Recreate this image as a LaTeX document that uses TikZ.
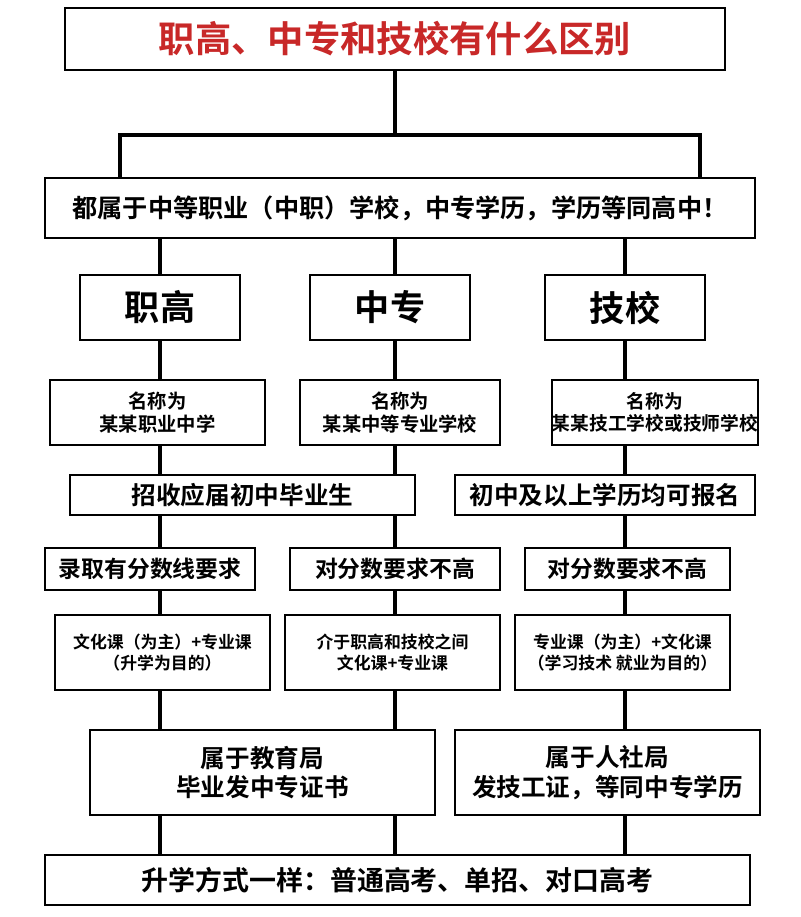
\documentclass[tikz,border=0pt]{standalone}
\usepackage{fontspec}
\setmainfont{Noto Sans CJK SC}[BoldFont={Noto Sans CJK SC Bold}]
\usetikzlibrary{backgrounds}
\definecolor{titlered}{RGB}{200,40,40}
\tikzset{box/.style={draw,line width=1.6pt,fill=white,align=center,inner sep=0pt,font=\bfseries},
         link/.style={line width=3.2pt}}
% box from pixel corners: name, x1, y1, x2, y2, font size, text
\newcommand{\bx}[7]{%
  \node[box,minimum width={(#4-#2)*0.03cm},minimum height={(#5-#3)*0.03cm},
        font=\fontsize{#6pt}{\dimexpr #6pt*12/10\relax}\selectfont\bfseries] (#1) at ({(#2+#4)/2},{(#3+#5)/2}) {#7};}
\begin{document}
\begin{tikzpicture}[x=0.03cm,y=-0.03cm]
\useasboundingbox (0,0) rectangle (800,917);
\bx{title}{65}{8}{725}{70}{31}{\color{titlered}职高、中专和技校有什么区别}
\bx{common}{45}{178}{755}{238}{21.5}{都属于中等职业（中职）学校，中专学历，学历等同高中！}
\bx{zg}{80}{275}{240}{340}{30}{职高}
\bx{zz}{310}{275}{470}{340}{30}{中专}
\bx{jx}{545}{275}{705}{340}{30}{技校}
\bx{zgname}{50}{380}{265}{445}{16.5}{名称为\\某某职业中学}
\bx{zzname}{300}{380}{500}{445}{16.5}{名称为\\某某中等专业学校}
\bx{jxname}{555}{380}{755}{445}{16}{名称为\\某某技工学校或技师学校}
\bx{recruitA}{70}{475}{415}{515}{21}{招收应届初中毕业生}
\bx{recruitB}{455}{475}{755}{515}{21}{初中及以上学历均可报名}
\bx{zgscore}{45}{548}{255}{590}{19.5}{录取有分数线要求}
\bx{zzscore}{290}{548}{500}{590}{19.5}{对分数要求不高}
\bx{jxscore}{525}{548}{730}{590}{19.5}{对分数要求不高}
\bx{zgcourse}{55}{615}{270}{690}{14.4}{文化课（为主）+专业课\\（升学为目的）}
\bx{zzcourse}{285}{615}{500}{690}{14.4}{介于职高和技校之间\\文化课+专业课}
\bx{jxcourse}{515}{615}{730}{690}{14.4}{专业课（为主）+文化课\\（学习技术 就业为目的）}
\bx{eduA}{90}{730}{435}{815}{21}{属于教育局\\毕业发中专证书}
\bx{eduB}{455}{730}{760}{815}{21}{属于人社局\\发技工证，等同中专学历}
\bx{exam}{45}{855}{750}{905}{23}{升学方式一样：普通高考、单招、对口高考}
\coordinate (left) at (120,135);
\coordinate (right) at (700,135);
\begin{scope}[on background layer]
\draw[link] (title.south) -- (title.south |- left);
\draw[link] (common.north -| left) -- (left) -- (right) -- (common.north -| right);
\foreach \c in {160,395,625}
  \draw[link] (common.south -| {(\c,0)}) -- (exam.north -| {(\c,0)});
\end{scope}
\end{tikzpicture}
\end{document}
